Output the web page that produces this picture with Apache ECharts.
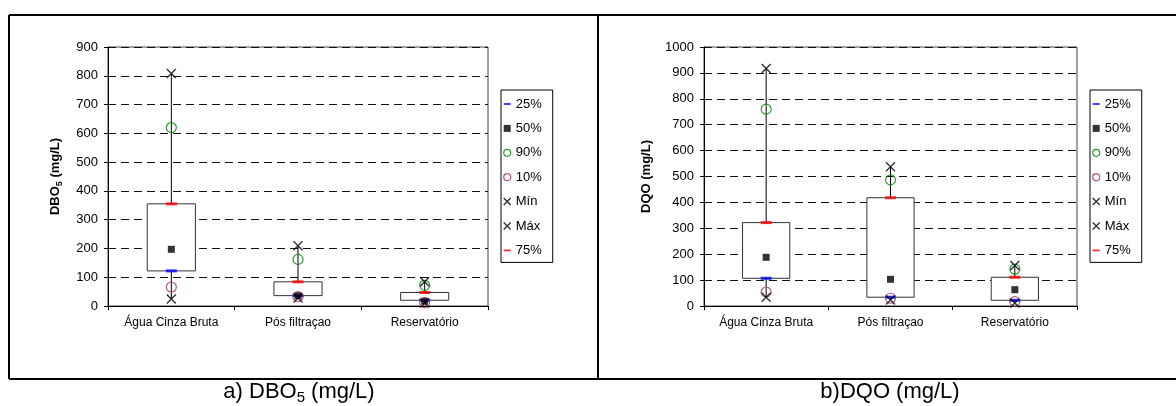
<!DOCTYPE html>
<html>
<head>
<meta charset="utf-8">
<script src="https://cdn.jsdelivr.net/npm/echarts@6/dist/echarts.min.js"></script>
<style>
  html, body { margin: 0; padding: 0; background: #fff; }
  #main { width: 1176px; height: 406px; }
</style>
</head>
<body>
<div id="main"></div>
<script>
var categories = ['Água Cinza Bruta', 'Pós filtraçao', 'Reservatório'];

// DBO5 (mg/L)
var dboMin = [24, 28, 10];
var dbo10 = [66, 33, 12];
var dbo25 = [122, 36, 20];
var dbo50 = [197, 36, 17];
var dbo75 = [355, 84, 47];
var dbo90 = [620, 162, 72];
var dboMax = [808, 209, 84];

// DQO (mg/L)
var dqoMin = [34, 23, 12];
var dqo10 = [54, 30, 17];
var dqo25 = [107, 34, 22];
var dqo50 = [188, 103, 63];
var dqo75 = [322, 418, 111];
var dqo90 = [760, 487, 142];
var dqoMax = [917, 538, 156];

var dboTicks = { min: 0, max: 900, interval: 100 };
var dqoTicks = { min: 0, max: 1000, interval: 100 };

var font = 'Arial, "Liberation Sans", sans-serif';
var xPath = 'path://M0,0L10,10M10,0L0,10';
var dashPath = 'path://M0,0h10v2.6h-10z';

var marks = [
  { name: '25%', symbol: 'rect', size: [11, 3], style: { color: '#0000ff' }, icon: dashPath },
  { name: '50%', symbol: 'rect', size: 7, style: { color: '#000' }, icon: 'rect' },
  { name: '90%', symbol: 'circle', size: 10, style: { color: 'rgba(0,0,0,0)', borderColor: '#008000', borderWidth: 1.2 }, icon: 'circle' },
  { name: '10%', symbol: 'circle', size: 10, style: { color: 'rgba(0,0,0,0)', borderColor: '#993366', borderWidth: 1.2 }, icon: 'circle' },
  { name: 'Mín', symbol: xPath, size: 9, style: { color: 'rgba(0,0,0,0)', borderColor: '#000', borderWidth: 1.4 }, icon: xPath },
  { name: 'Máx', symbol: xPath, size: 9, style: { color: 'rgba(0,0,0,0)', borderColor: '#000', borderWidth: 1.4 }, icon: xPath },
  { name: '75%', symbol: 'rect', size: [11, 3], style: { color: '#ff0000' }, icon: dashPath }
];

var dboSets = [dbo25, dbo50, dbo90, dbo10, dboMin, dboMax, dbo75];
var dqoSets = [dqo25, dqo50, dqo90, dqo10, dqoMin, dqoMax, dqo75];

function pts(vals) {
  return vals.map(function (v, i) { return [i, v]; });
}

function boxData(lo, q1, q3, hi) {
  return categories.map(function (c, i) { return [i, lo[i], q1[i], q3[i], hi[i]]; });
}

function renderBox(params, api) {
  var x = api.value(0);
  var lo = api.coord([x, api.value(1)]);
  var q1 = api.coord([x, api.value(2)]);
  var q3 = api.coord([x, api.value(3)]);
  var hi = api.coord([x, api.value(4)]);
  var w = api.size([1, 0])[0] * 0.38;
  return {
    type: 'group',
    children: [
      { type: 'line', shape: { x1: lo[0], y1: lo[1], x2: hi[0], y2: hi[1] }, style: { stroke: '#000', lineWidth: 1 } },
      { type: 'rect', shape: { x: q3[0] - w / 2, y: q3[1], width: w, height: q1[1] - q3[1] }, style: { fill: '#fff', stroke: '#333', lineWidth: 1 } }
    ]
  };
}

function makeSeries(idx, sets, lo, q1, q3, hi) {
  var out = [{
    type: 'custom',
    xAxisIndex: idx,
    yAxisIndex: idx,
    renderItem: renderBox,
    encode: { x: 0, y: [1, 2, 3, 4] },
    data: boxData(lo, q1, q3, hi),
    silent: true,
    z: 2
  }];
  marks.forEach(function (m, k) {
    out.push({
      type: 'scatter',
      name: m.name,
      xAxisIndex: idx,
      yAxisIndex: idx,
      symbol: m.symbol,
      symbolSize: m.size,
      itemStyle: m.style,
      data: pts(sets[k]),
      z: 3 + k
    });
  });
  return out;
}

function makeLegend(left) {
  return {
    orient: 'vertical',
    left: left,
    top: 90,
    padding: [7, 11, 5, 2],
    itemWidth: 7,
    itemHeight: 7,
    itemGap: 10.4,
    itemTextGap: 9,
    borderColor: '#000',
    borderWidth: 1,
    selectedMode: false,
    textStyle: { fontFamily: font, fontSize: 13, color: '#000', lineHeight: 14 },
    data: marks.map(function (m) {
      return { name: m.name, icon: m.icon, itemStyle: m.style };
    })
  };
}

function makeXAxis(idx) {
  return {
    type: 'category',
    gridIndex: idx,
    data: categories,
    axisLine: { lineStyle: { color: '#000', width: 1 } },
    axisTick: { show: true, length: 4, lineStyle: { color: '#000' } },
    axisLabel: { color: '#000', fontFamily: font, fontSize: 12, margin: 11 },
    splitLine: { show: false }
  };
}

function makeYAxis(idx, ticks, name, gap) {
  return {
    type: 'value',
    gridIndex: idx,
    min: ticks.min,
    max: ticks.max,
    interval: ticks.interval,
    name: name,
    nameLocation: 'middle',
    nameRotate: 90,
    nameGap: gap,
    nameTextStyle: {
      fontFamily: font, fontSize: 13, fontWeight: 'bold', color: '#000',
      rich: { s: { fontFamily: font, fontSize: 9, fontWeight: 'bold', color: '#000', padding: [8, 0, 0, 0] } }
    },
    axisLine: { show: true, lineStyle: { color: '#000', width: 1 } },
    axisTick: { show: true, length: 4, lineStyle: { color: '#000' } },
    axisLabel: {
      color: '#000', fontFamily: font, fontSize: 13, margin: 10,
      formatter: function (v) { return String(v); }
    },
    splitLine: { show: true, lineStyle: { color: '#111', type: [8, 5], width: 1 } }
  };
}

var chart = echarts.init(document.getElementById('main'), null, { renderer: 'canvas' });

chart.setOption({
  animation: false,
  backgroundColor: '#fff',
  grid: [
    { left: 108, top: 47, width: 380, height: 259, show: true, borderColor: '#444', borderWidth: 1, backgroundColor: 'transparent' },
    { left: 704, top: 47, width: 373, height: 259, show: true, borderColor: '#444', borderWidth: 1, backgroundColor: 'transparent' }
  ],
  xAxis: [makeXAxis(0), makeXAxis(1)],
  yAxis: [
    makeYAxis(0, dboTicks, 'DBO{s|5} (mg/L)', 44),
    makeYAxis(1, dqoTicks, 'DQO (mg/L)', 51)
  ],
  legend: [makeLegend(501), makeLegend(1090)],
  series: makeSeries(0, dboSets, dboMin, dbo25, dbo75, dboMax)
    .concat(makeSeries(1, dqoSets, dqoMin, dqo25, dqo75, dqoMax)),
  graphic: [
    { type: 'line', shape: { x1: 9, y1: 15, x2: 1176, y2: 15 }, style: { stroke: '#000', lineWidth: 2 }, silent: true },
    { type: 'line', shape: { x1: 9, y1: 379, x2: 1176, y2: 379 }, style: { stroke: '#000', lineWidth: 2 }, silent: true },
    { type: 'line', shape: { x1: 9, y1: 15, x2: 9, y2: 379 }, style: { stroke: '#000', lineWidth: 2 }, silent: true },
    { type: 'line', shape: { x1: 598, y1: 15, x2: 598, y2: 379 }, style: { stroke: '#000', lineWidth: 2 }, silent: true },
    {
      type: 'text', x: 299, y: 392, silent: true,
      style: {
        text: 'a) DBO{s|5} (mg/L)', align: 'center', verticalAlign: 'middle',
        font: '22px ' + font, fill: '#000',
        rich: { s: { fontSize: 15, fontFamily: font, fill: '#000', padding: [11, 0, 0, 0] } }
      }
    },
    {
      type: 'text', x: 890, y: 392, silent: true,
      style: { text: 'b)DQO (mg/L)', align: 'center', verticalAlign: 'middle', font: '22px ' + font, fill: '#000' }
    }
  ]
});
</script>
</body>
</html>
